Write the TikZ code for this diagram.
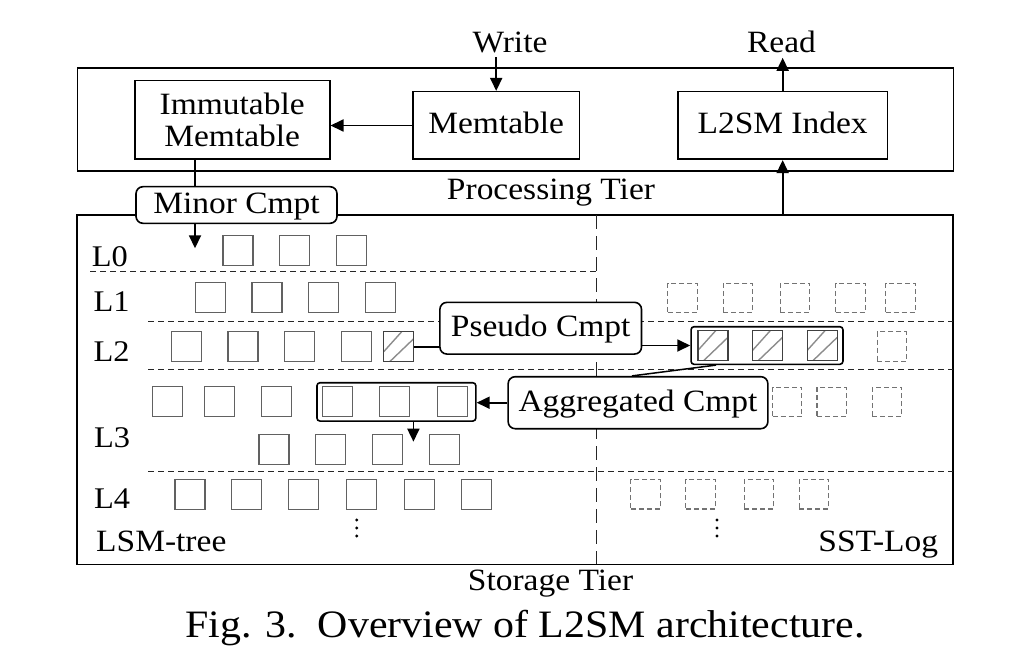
\documentclass[tikz,border=0pt]{standalone}
\usepackage{fontspec}
\setmainfont{Liberation Serif}[FakeStretch=1.08]
\usetikzlibrary{arrows.meta,calc}
\newcommand\mainfs{\fontsize{31pt}{32.3pt}\selectfont}
\newcommand\lvlfs{\fontsize{30pt}{32pt}\selectfont}
\newcommand\capfs{\fontsize{38.8pt}{42pt}\selectfont}
\tikzset{
  frame/.style={draw=black, line width=1.6pt, inner sep=0pt},
  pbox/.style={draw=black, line width=1.6pt, inner sep=0pt, font=\mainfs},
  tb/.style={text height=21pt, text depth=4pt},
  callout/.style={draw=black, line width=1.6pt, rounded corners=7pt, fill=white, inner sep=0pt, font=\mainfs, text height=21pt, text depth=4pt},
  lbl/.style={inner sep=0pt, font=\mainfs},
  lvl/.style={inner sep=0pt, font=\lvlfs, anchor=base west},
  sst/.style={draw=black!62, line width=1.2pt, minimum width=30pt, minimum height=30pt, inner sep=0pt},
  dsst/.style={draw=black!55, line width=1.1pt, dash pattern=on 5pt off 3pt, minimum width=29.4pt, minimum height=29.4pt, inner sep=0pt},
  hsst/.style={sst, draw=black!75, path picture={
      \draw[black!45, line width=1.4pt]
        ([yshift=10pt]path picture bounding box.south west) -- ([xshift=18pt]path picture bounding box.north west)
        ([xshift=6pt]path picture bounding box.south west) -- ([yshift=-7pt]path picture bounding box.north east);
    }},
  grp/.style={draw=black, line width=1.6pt, rounded corners=3pt, inner sep=0pt},
  lvline/.style={draw=black!85, line width=0.9pt, dash pattern=on 6pt off 4pt},
  vdiv/.style={draw=black!85, line width=0.9pt, dash pattern=on 14pt off 7pt},
  ln/.style={draw=black, line width=1.8pt},
  arr/.style={ln, -{Triangle[length=13pt, width=12pt]}},
  vdot/.style={circle, fill=black, inner sep=0pt, minimum size=3.2pt}
}
\begin{document}
\begin{tikzpicture}[x=1pt, y=-1pt]
\useasboundingbox (0,0) rectangle (1027,647);

% tiers
\node[frame, minimum width=875.8pt, minimum height=102.7pt] (proc) at (515.4,119.65) {};
\node[frame, minimum width=875.7pt, minimum height=349.3pt] (stor) at (514.9,389.65) {};

% level separators and divider
\draw[lvline] (90,271) -- (597,271);
\draw[lvline] (148,321.7) -- (952.7,321.7);
\draw[lvline] (148,369.3) -- (952.7,369.3);
\draw[lvline] (148,471) -- (952.7,471);
\draw[vdiv] (596.7,215) -- (596.7,564.3);

% processing tier nodes
\node[pbox, minimum width=195pt, minimum height=78.6pt, align=center] (imm) at (232.2,120) {Immutable\\Memtable};
\node[pbox, tb, minimum width=166.5pt, minimum height=67.6pt] (mem) at (496.2,125.5) {Memtable};
\node[pbox, tb, minimum width=209.3pt, minimum height=67.6pt] (idx) at (782.65,125.5) {L2SM Index};

\node[lbl, anchor=base] (write) at (510,53) {Write};
\node[lbl, anchor=base] (read) at (781.5,53) {Read};
\node[lbl, anchor=base] (ptier) at (551,200) {Processing Tier};
\node[lbl, anchor=base] (stier) at (550.5,590) {Storage Tier};
\node[lbl, anchor=base west] (lsm) at (96,551.7) {LSM-tree};
\node[lbl, anchor=base east] (sstlog) at (938.3,551) {SST-Log};

% level labels
\node[lvl] (l0) at (91.7,266) {L0};
\node[lvl] (l1) at (93.3,311.7) {L1};
\node[lvl] (l2) at (93.3,361.7) {L2};
\node[lvl] (l3) at (93.8,447.3) {L3};
\node[lvl] (l4) at (93.8,508.3) {L4};

% LSM-tree SSTables
\foreach \x [count=\i] in {238,294.6,351.4} \node[sst] (a0\i) at (\x,250.7) {};
\foreach \x [count=\i] in {210.8,266.9,323.7,380.5} \node[sst] (a1\i) at (\x,297.7) {};
\foreach \x [count=\i] in {186.4,242.9,299.7,356.8} \node[sst] (a2\i) at (\x,346.7) {};
\node[hsst] (h2) at (398.7,346.7) {};
\foreach \x [count=\i] in {167.3,219.5,276.8,337.6,394.3,452.2} \node[sst] (a3\i) at (\x,401.7) {};
\foreach \x [count=\i] in {274,330.7,387.5,444.3} \node[sst] (b3\i) at (\x,449.7) {};
\foreach \x [count=\i] in {190,246.7,303.5,361.4,419.8,476.6} \node[sst] (a4\i) at (\x,494.3) {};

% SST-Log SSTables
\foreach \x [count=\i] in {682.6,737.9,795,850.4,900.4} \node[dsst] (d1\i) at (\x,297.8) {};
\foreach \x [count=\i] in {712.9,767.5,822.2} \node[hsst] (g2\i) at (\x,345.4) {};
\node[dsst] (d21) at (891.8,346.5) {};
\foreach \x [count=\i] in {787.2,831.7,887} \node[dsst] (d3\i) at (\x,402) {};
\foreach \x [count=\i] in {645.5,700.6,759,814} \node[dsst] (d4\i) at (\x,494.3) {};

% groups
\node[grp, minimum width=151.9pt, minimum height=37.6pt] (grp2) at (767,345.5) {};
\node[grp, minimum width=158.9pt, minimum height=38.3pt] (grp3) at (396.4,401.9) {};

% vdots
\foreach \y [count=\i] in {520,528,536} {
  \node[vdot] (vl\i) at (356.7,\y) {};
  \node[vdot] (vr\i) at (717,\y) {};
}

% callouts
\node[callout, minimum width=201pt, minimum height=36.6pt] (minor) at (236.5,205) {Minor Cmpt};
\node[callout, minimum width=201.6pt, minimum height=51.7pt] (pseudo) at (540.7,328.2) {Pseudo Cmpt};
\node[callout, minimum width=259.7pt, minimum height=52pt] (agg) at (638,402.7) {Aggregated Cmpt};

% connectors
\draw[arr] ([yshift=-3.7pt]write.south -| mem.north) -- (mem.north);
\draw[arr] (idx.north) -- ([yshift=-4.3pt]read.south -| idx.north);
\draw[arr] (stor.north -| idx.south) -- (idx.south);
\draw[arr] (mem.west) -- (imm.east |- mem.west);
\coordinate (mx) at (195,0);
\coordinate (l0in) at (195,248.3);
\draw[ln] (imm.south -| mx) -- (minor.north -| mx);
\draw[arr] (minor.south -| mx) -- (l0in);
\draw[ln] (h2.east) -- (pseudo.west |- h2.east);
\draw[arr] (pseudo.east |- grp2.west) -- (grp2.west);
\draw[ln, line width=1.5pt] ([xshift=-51pt]grp2.south) -- ([xshift=-6pt]agg.north);
\draw[arr] (agg.west) -- (grp3.east |- agg.west);
\coordinate (l3in) at (413.4,441.7);
\draw[arr] ([xshift=17pt]grp3.south) -- (l3in);

% caption
\node[inner sep=0pt, font=\capfs, anchor=base] (cap) at (525,637.3) {Fig. 3.\ \ Overview of L2SM architecture.};
\end{tikzpicture}
\end{document}
